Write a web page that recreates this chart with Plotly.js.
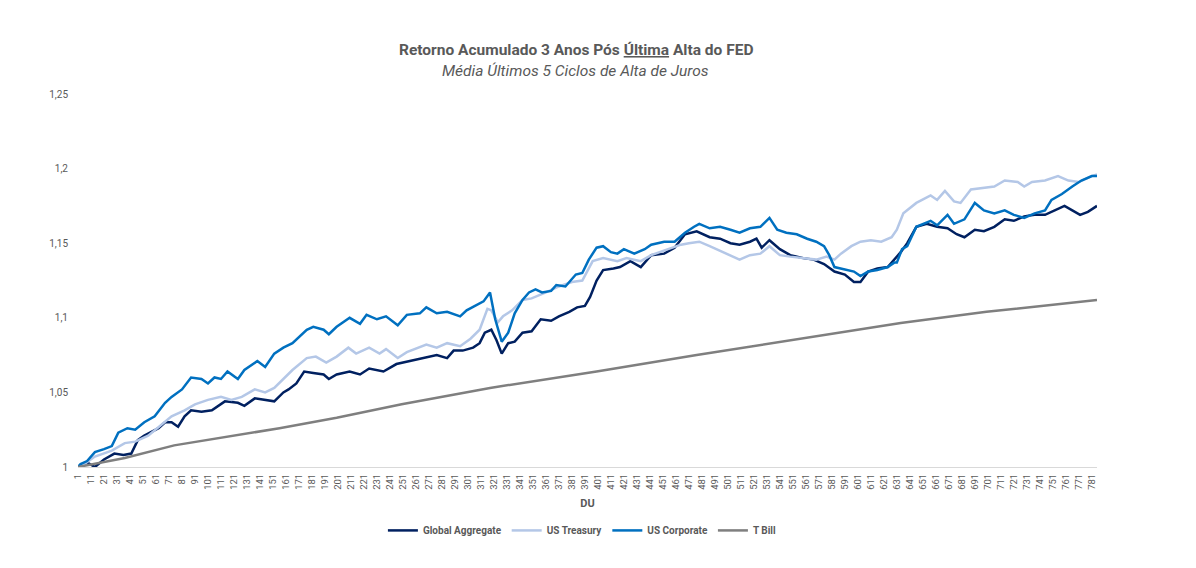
<!DOCTYPE html>
<html>
<head>
<meta charset="utf-8">
<script src="https://cdn.plot.ly/plotly-3.0.1.min.js"></script>
<style>
  html, body { margin: 0; padding: 0; background: #fff; }
  #chart { width: 1196px; height: 568px; }
</style>
</head>
<body>
<div id="chart"></div>
<script>
// Dados (dia útil -> retorno acumulado)

const gaDays = [1, 3, 8, 14, 21, 29, 36, 42, 47, 52, 63, 68, 73, 78, 83, 88, 96, 104, 114, 124,
  129, 137, 145, 152, 159, 163, 169, 175, 182, 190, 194, 200, 210, 218, 225, 236, 246, 256, 267, 277,
  285, 290, 297, 305, 310, 314, 319, 323, 327, 332, 337, 343, 350, 357, 365, 371, 379, 385, 391, 395,
  400, 405, 413, 418, 426, 434, 442, 452, 460, 468, 477, 487, 495, 503, 510, 518, 523, 527, 533, 541,
  549, 559, 567, 575, 583, 591, 598, 603, 609, 616, 624, 629, 634, 639, 646, 654, 662, 670, 677, 683,
  691, 698, 706, 714, 721, 729, 737, 745, 753, 760, 766, 772, 778, 785];
const gaValues = [1.000, 1.001, 1.003, 1.000, 1.005, 1.009, 1.008, 1.009, 1.018, 1.021, 1.026, 1.030, 1.030, 1.027, 1.034, 1.038, 1.037, 1.038, 1.044, 1.043,
  1.041, 1.046, 1.045, 1.044, 1.050, 1.052, 1.056, 1.064, 1.063, 1.062, 1.059, 1.062, 1.064, 1.062, 1.066, 1.064, 1.069, 1.071, 1.073, 1.075,
  1.073, 1.078, 1.078, 1.080, 1.083, 1.090, 1.092, 1.085, 1.076, 1.083, 1.084, 1.090, 1.091, 1.099, 1.098, 1.101, 1.104, 1.107, 1.108, 1.114,
  1.125, 1.132, 1.133, 1.134, 1.138, 1.134, 1.142, 1.143, 1.147, 1.156, 1.158, 1.154, 1.153, 1.150, 1.149, 1.151, 1.153, 1.147, 1.152, 1.146,
  1.142, 1.140, 1.139, 1.136, 1.131, 1.129, 1.124, 1.124, 1.131, 1.133, 1.134, 1.139, 1.144, 1.150, 1.161, 1.163, 1.161, 1.160, 1.156, 1.154,
  1.159, 1.158, 1.161, 1.166, 1.165, 1.168, 1.169, 1.169, 1.172, 1.175, 1.172, 1.169, 1.171, 1.175];

const utDays = [1, 6, 14, 27, 37, 45, 55, 63, 73, 83, 91, 101, 111, 119, 127, 137, 145, 152, 159, 166,
  177, 184, 192, 200, 209, 215, 225, 233, 238, 247, 254, 264, 269, 277, 285, 295, 303, 310, 316, 319,
  324, 328, 335, 343, 350, 361, 371, 381, 389, 397, 405, 416, 423, 434, 442, 455, 465, 471, 479, 487,
  497, 510, 518, 526, 533, 541, 549, 559, 569, 577, 583, 588, 596, 603, 611, 619, 627, 631, 636, 646,
  657, 662, 668, 675, 680, 688, 698, 706, 714, 724, 729, 735, 745, 755, 763, 771, 781, 785];
const utValues = [1.000, 1.002, 1.007, 1.011, 1.016, 1.017, 1.021, 1.027, 1.034, 1.038, 1.042, 1.045, 1.047, 1.045, 1.047, 1.052, 1.050, 1.053, 1.059, 1.065,
  1.073, 1.074, 1.070, 1.074, 1.080, 1.076, 1.080, 1.076, 1.079, 1.073, 1.077, 1.080, 1.082, 1.080, 1.083, 1.081, 1.086, 1.092, 1.106, 1.105,
  1.097, 1.101, 1.105, 1.112, 1.113, 1.117, 1.121, 1.124, 1.125, 1.138, 1.140, 1.138, 1.140, 1.138, 1.142, 1.146, 1.149, 1.150, 1.151, 1.148,
  1.144, 1.139, 1.142, 1.143, 1.148, 1.142, 1.141, 1.140, 1.139, 1.141, 1.139, 1.143, 1.148, 1.151, 1.152, 1.151, 1.154, 1.159, 1.170, 1.177,
  1.182, 1.179, 1.185, 1.178, 1.177, 1.186, 1.187, 1.188, 1.192, 1.191, 1.188, 1.191, 1.192, 1.195, 1.192, 1.191, 1.195, 1.196];

const ucDays = [1, 3, 8, 14, 21, 27, 32, 39, 45, 52, 60, 68, 73, 81, 88, 96, 101, 106, 111, 116,
  124, 129, 139, 145, 152, 159, 166, 177, 182, 190, 194, 200, 210, 218, 223, 231, 238, 247, 254, 264,
  269, 277, 285, 295, 300, 308, 313, 318, 322, 327, 332, 337, 343, 348, 353, 358, 365, 369, 376, 384,
  389, 394, 400, 405, 411, 416, 421, 429, 437, 442, 452, 460, 468, 475, 479, 487, 495, 503, 510, 518,
  526, 533, 539, 546, 554, 562, 569, 575, 579, 583, 588, 593, 598, 603, 609, 616, 624, 629, 631, 635,
  639, 646, 657, 662, 670, 675, 683, 691, 698, 706, 714, 721, 729, 737, 745, 750, 758, 766, 773, 781, 785];
const ucValues = [1.000, 1.002, 1.004, 1.010, 1.012, 1.014, 1.023, 1.026, 1.025, 1.030, 1.034, 1.043, 1.047, 1.052, 1.060, 1.059, 1.056, 1.060, 1.059, 1.064,
  1.059, 1.065, 1.071, 1.067, 1.076, 1.080, 1.083, 1.092, 1.094, 1.092, 1.089, 1.094, 1.100, 1.096, 1.102, 1.099, 1.101, 1.095, 1.102, 1.103,
  1.107, 1.103, 1.104, 1.101, 1.105, 1.109, 1.111, 1.117, 1.099, 1.084, 1.090, 1.103, 1.112, 1.117, 1.119, 1.117, 1.118, 1.122, 1.121, 1.129,
  1.130, 1.139, 1.147, 1.148, 1.144, 1.143, 1.146, 1.143, 1.146, 1.149, 1.151, 1.151, 1.157, 1.161, 1.163, 1.160, 1.161, 1.159, 1.157, 1.160,
  1.161, 1.167, 1.159, 1.157, 1.156, 1.153, 1.151, 1.148, 1.142, 1.134, 1.133, 1.132, 1.131, 1.128, 1.131, 1.132, 1.134, 1.137, 1.137, 1.146,
  1.148, 1.161, 1.165, 1.162, 1.169, 1.163, 1.166, 1.177, 1.172, 1.170, 1.172, 1.169, 1.167, 1.170, 1.172, 1.179, 1.183, 1.188, 1.192, 1.195, 1.195];

const tbDays = [1, 37, 75, 114, 156, 200, 250, 318, 400, 477, 550, 634, 700, 785];
const tbValues = [1.000, 1.006, 1.0145, 1.020, 1.026, 1.033, 1.042, 1.053, 1.064, 1.075, 1.085, 1.0965, 1.104, 1.112];

const seriesNames = ["Global Aggregate", "US Treasury", "US Corporate", "T Bill"];
const seriesColors = ["#002060", "#B4C7E7", "#0070C0", "#7F7F7F"];

const yTickVals = [1, 1.05, 1.1, 1.15, 1.2, 1.25];
const yTickText = ["1", "1,05", "1,1", "1,15", "1,2", "1,25"];

const TEXT_COLOR = "#595959";
const FONT = "Roboto, 'Open Sans', sans-serif";

// Linhas

const allDays = [gaDays, utDays, ucDays, tbDays];
const allValues = [gaValues, utValues, ucValues, tbValues];

const traces = seriesNames.map((name, i) => ({
  x: allDays[i],
  y: allValues[i],
  name: name,
  type: "scatter",
  mode: "lines",
  line: { color: seriesColors[i], width: 2.5 },
  hoverinfo: "skip",
}));

// Layout

const layout = {
  width: 1196,
  height: 568,
  margin: { l: 78, r: 99, t: 94, b: 100.5 },
  paper_bgcolor: "#ffffff",
  plot_bgcolor: "#ffffff",
  font: { family: FONT, color: TEXT_COLOR, size: 10 },
  showlegend: true,
  legend: {
    orientation: "h",
    x: 0.495,
    xanchor: "center",
    y: -0.17,
    yanchor: "middle",
    font: { family: FONT, size: 10, color: TEXT_COLOR, weight: "bold" },
    itemwidth: 30,
  },
  xaxis: {
    type: "linear",
    range: [1, 785],
    tick0: 1,
    dtick: 10,
    tickangle: -90,
    tickfont: { size: 9.5, color: TEXT_COLOR },
    showgrid: false,
    zeroline: false,
    showline: true,
    linecolor: "#D9D9D9",
    linewidth: 1,
    ticks: "",
    ticklabelstandoff: 2,
    title: {
      text: "DU",
      font: { size: 11, color: TEXT_COLOR, weight: "bold" },
      standoff: 10,
    },
  },
  yaxis: {
    range: [1, 1.25],
    tickvals: yTickVals,
    ticktext: yTickText,
    tickfont: { size: 10, color: TEXT_COLOR },
    showgrid: false,
    zeroline: false,
    showline: false,
    ticks: "",
    ticklabelstandoff: 9,
  },
  annotations: [
    {
      text: "<b>Retorno Acumulado 3 Anos Pós <u>Última</u> Alta do FED</b>",
      xref: "paper",
      yref: "paper",
      x: 0.4887,
      y: 1.118,
      xanchor: "center",
      yanchor: "middle",
      showarrow: false,
      font: { family: FONT, size: 15.5, color: TEXT_COLOR },
    },
    {
      text: "<i>Média Últimos 5 Ciclos de Alta de Juros</i>",
      xref: "paper",
      yref: "paper",
      x: 0.4887,
      y: 1.0616,
      xanchor: "center",
      yanchor: "middle",
      showarrow: false,
      font: { family: FONT, size: 15.5, color: TEXT_COLOR },
    },
  ],
};

const config = { staticPlot: true, responsive: false };

Plotly.newPlot("chart", traces, layout, config);
</script>
</body>
</html>
